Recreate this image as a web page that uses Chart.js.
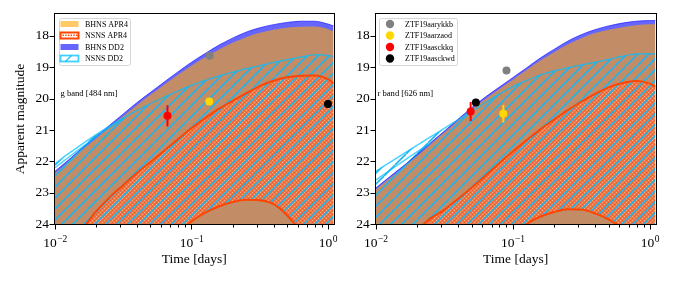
<!DOCTYPE html>
<html><head><meta charset="utf-8">
<script src="https://cdn.jsdelivr.net/npm/chart.js@4.4.0/dist/chart.umd.min.js"></script>
<style>
html,body{margin:0;padding:0;background:#fff;width:673px;height:285px;overflow:hidden}
canvas{position:absolute;top:0}
#left{left:0}
#right{left:340px}
</style></head><body>
<canvas id="left" width="340" height="285"></canvas>
<canvas id="right" width="333" height="285"></canvas>
<script>
// ---------- data ----------
const days = [0.01,0.0126,0.0158,0.02,0.0251,0.0316,0.0398,0.0501,0.0631,0.0794,0.1,0.126,0.158,0.2,0.251,0.316,0.398,0.501,0.631,0.794,1.0,1.1];

// g band [484 nm]
const gBhnsDD2   = [22.32,21.95,21.58,21.21,20.85,20.49,20.13,19.80,19.47,19.15,18.84,18.56,18.30,18.07,17.88,17.74,17.64,17.57,17.53,17.53,17.62,17.68];
const gBhnsAPR4  = [22.38,22.01,21.64,21.27,20.91,20.56,20.21,19.88,19.56,19.25,18.95,18.68,18.44,18.22,18.04,17.90,17.80,17.74,17.71,17.70,17.78,17.86];
const gNsnsDD2   = [22.08,21.75,21.45,21.15,20.88,20.62,20.38,20.16,19.95,19.76,19.58,19.42,19.28,19.16,19.05,18.95,18.85,18.76,18.68,18.60,18.62,18.66];
const gNsnsDD2b  = [22.20,21.87,21.55,21.23,20.92,20.64,null,null,null,null,null,null,null,null,null,null,null,null,null,null,null,null];
const gNsnsAPR4  = [24.90,24.50,24.15,23.60,23.15,22.76,22.37,22.02,21.66,21.30,20.94,20.62,20.33,20.07,19.83,19.60,19.43,19.32,19.27,19.26,19.38,19.52];
const gNsnsLower = [27.9,27.5,27.1,26.7,26.3,25.9,25.5,25.1,24.7,24.3,23.92,23.64,23.44,23.30,23.23,23.24,23.36,23.72,24.25,24.9,25.5,25.7];

// r band [626 nm]
const rBhnsDD2   = [22.85,22.50,22.16,21.79,21.41,21.04,20.66,20.29,19.95,19.64,19.33,19.02,18.71,18.43,18.17,17.96,17.80,17.68,17.59,17.53,17.51,17.51];
const rBhnsAPR4  = [22.90,22.55,22.21,21.84,21.46,21.09,20.71,20.35,20.01,19.70,19.40,19.09,18.79,18.52,18.27,18.07,17.91,17.80,17.72,17.66,17.63,17.63];
const rNsnsDD2   = [22.32,22.04,21.77,21.49,21.22,20.95,20.68,20.40,20.13,19.86,19.62,19.42,19.25,19.12,19.02,18.93,18.84,18.75,18.65,18.58,18.57,18.58];
const rNsnsDD2b  = [22.60,22.30,22.00,21.70,21.42,null,null,null,null,null,null,null,null,null,null,null,null,null,null,null,null,null];
const rNsnsAPR4  = [25.4,25.0,24.6,24.2,23.82,23.55,23.2,22.84,22.46,22.07,21.69,21.33,20.99,20.67,20.37,20.10,19.85,19.64,19.50,19.44,19.52,19.62];
const rNsnsLower = [28.2,27.8,27.4,27.0,26.6,26.2,25.85,25.5,25.1,24.75,24.35,24.0,23.77,23.62,23.53,23.54,23.66,23.85,24.15,24.6,25.1,25.3];

// ZTF candidates
const objects   = ['ZTF19aarykkb','ZTF19aarzaod','ZTF19aasckkq','ZTF19aasckwd'];
const objColors = ['#808080','#ffd700','#ff0000','#000000'];
const gTime = [0.136, 0.135, 0.0667, 1.0];
const gMag  = [18.63, 20.09, 20.55, 20.17];
const gErr  = [0, 0, 0.34, 0.13];
const rTime = [0.090, 0.0853, 0.0493, 0.0538];
const rMag  = [19.10, 20.48, 20.41, 20.12];
const rErr  = [0, 0.28, 0.30, 0];

const modelLabels = ['BHNS APR4','NSNS APR4','BHNS DD2','NSNS DD2'];
const yTicks = [18,19,20,21,22,23,24];
const xMajorTicks = [0.01, 0.1, 1];
const xMajorExp = ['\u22122','\u22121','0'];
const xMinorTicks = [0.02,0.03,0.04,0.05,0.06,0.07,0.08,0.09,0.2,0.3,0.4,0.5,0.6,0.7,0.8,0.9];
const xRange = [0.01, 1.1];
const yRange = [17.3, 24];

// ---------- styles ----------
const SERIF = "'Liberation Serif','Times New Roman',serif";
Chart.defaults.font.family = SERIF;
Chart.defaults.color = '#000';
const C_ORANGE = 'rgba(255,165,0,0.6)';
const C_BLUE = 'rgba(0,0,255,0.6)';
const C_RED = '#ff4500';
const C_CYAN = 'rgba(0,191,255,0.7)';

function hatchPattern(ctx) {
  const s = 11, c = document.createElement('canvas'); c.width = s; c.height = s;
  const x = c.getContext('2d');
  x.strokeStyle = '#22b4ec'; x.lineWidth = 1.6;
  x.beginPath();
  for (const k of [-1,0,1]) { x.moveTo(k*s, s); x.lineTo(k*s + s, 0); }
  x.stroke();
  return ctx.createPattern(c, 'repeat');
}
function dotPattern(ctx) {
  const c = document.createElement('canvas'); c.width = 4; c.height = 4;
  const x = c.getContext('2d');
  x.fillStyle = '#ee7646'; x.fillRect(0,0,4,4);
  x.fillStyle = '#f6ab84'; x.fillRect(0,0,1,1); x.fillRect(2,2,1,1);
  x.fillStyle = '#e4602f'; x.fillRect(2,0,1,1); x.fillRect(0,2,1,1);
  return ctx.createPattern(c, 'repeat');
}

const deco = {
  id: 'deco',
  afterDatasetsDraw(chart, args, o) {
    const {ctx, chartArea: a, scales: {x, y}} = chart;
    ctx.save();
    ctx.strokeStyle = '#000'; ctx.lineWidth = 1;
    const L = Math.round(a.left) - 0.5, R = Math.round(a.right) + 0.5;
    const T = Math.round(a.top) - 0.5, B = Math.round(a.bottom) + 0.5;
    ctx.strokeRect(L, T, R - L, B - T);
    ctx.beginPath();
    yTicks.forEach(v => { const p = Math.round(y.getPixelForValue(v)) + 0.5; ctx.moveTo(L - 5, p); ctx.lineTo(L, p); });
    xMajorTicks.forEach(v => { const p = Math.round(x.getPixelForValue(v)) + 0.5; ctx.moveTo(p, B); ctx.lineTo(p, B + 5); });
    xMinorTicks.forEach(v => { const p = Math.round(x.getPixelForValue(v)) + 0.5; ctx.moveTo(p, B); ctx.lineTo(p, B + 3); });
    ctx.stroke();
    // x tick labels 10^n
    ctx.fillStyle = '#000'; ctx.textBaseline = 'alphabetic';
    xMajorTicks.forEach((v, i) => {
      const p = x.getPixelForValue(v);
      ctx.font = '13.5px ' + SERIF; const w1 = ctx.measureText('10').width;
      ctx.font = '9.5px ' + SERIF; const w2 = ctx.measureText(xMajorExp[i]).width;
      const x0 = p - (w1 + w2) / 2;
      ctx.font = '13.5px ' + SERIF; ctx.textAlign = 'left';
      ctx.fillText('10', x0, 247);
      ctx.font = '9.5px ' + SERIF;
      ctx.fillText(xMajorExp[i], x0 + w1 + 0.5, 241.5);
    });
    ctx.restore();
  },
  afterDraw(chart, args, o) {
    const {ctx} = chart;
    ctx.save();
    ctx.fillStyle = '#000'; ctx.textBaseline = 'middle'; ctx.textAlign = 'left';
    ctx.font = '8.6px ' + SERIF;
    ctx.fillText(o.bandLabel, o.bandX, 94);
    // legend frame
    const fx = o.legendBox[0], fy = o.legendBox[1], fw = o.legendBox[2], fh = o.legendBox[3];
    ctx.beginPath(); ctx.roundRect(fx + 0.5, fy + 0.5, fw, fh, 2);
    ctx.fillStyle = 'rgba(255,255,255,0.8)'; ctx.fill();
    ctx.strokeStyle = '#d6d6d6'; ctx.lineWidth = 1; ctx.stroke();
    const rows = [24, 35.5, 47, 58.5];
    const labels = o.kind === 'models' ? modelLabels : objects;
    labels.forEach((lab, i) => {
      const cy = rows[i];
      const hx = fx + 1.5, hw = 18, hh = 6;
      if (o.kind === 'models') {
        if (i === 0) { ctx.fillStyle = C_ORANGE; ctx.fillRect(hx, cy - hh/2, hw, hh); }
        if (i === 2) { ctx.fillStyle = C_BLUE; ctx.fillRect(hx, cy - hh/2, hw, hh); }
        if (i === 1) {
          ctx.fillStyle = '#fff'; ctx.fillRect(hx, cy - hh/2, hw, hh);
          ctx.fillStyle = C_RED;
          for (let k = 0; k < 6; k++) ctx.fillRect(hx + 2 + k*2.7, cy - 1, 1.4, 1.6);
          ctx.strokeStyle = C_RED; ctx.lineWidth = 2; ctx.strokeRect(hx, cy - hh/2, hw, hh);
        }
        if (i === 3) {
          ctx.fillStyle = '#fff'; ctx.fillRect(hx, cy - hh/2, hw, hh);
          ctx.strokeStyle = '#33c4f5'; ctx.lineWidth = 1.5;
          ctx.beginPath(); ctx.moveTo(hx + 5, cy + hh/2); ctx.lineTo(hx + 11, cy - hh/2); ctx.stroke();
          ctx.strokeStyle = 'rgba(0,191,255,0.75)'; ctx.lineWidth = 1.8; ctx.strokeRect(hx, cy - hh/2, hw, hh);
        }
        ctx.fillStyle = '#000'; ctx.font = '8px ' + SERIF;
        ctx.fillText(lab, fx + 26, cy + 0.5);
      } else {
        ctx.fillStyle = objColors[i];
        ctx.beginPath(); ctx.arc(fx + 11, cy, 4.2, 0, Math.PI * 2); ctx.fill();
        ctx.fillStyle = '#000'; ctx.font = '8px ' + SERIF;
        ctx.fillText(lab, fx + 26, cy + 0.5);
      }
    });
    ctx.restore();
  }
};

function buildChart(id, band) {
  const canvas = document.getElementById(id);
  const ctx = canvas.getContext('2d');
  const pts = arr => days.map((d, i) => ({x: d, y: arr[i]}));
  const ds = [];
  objects.forEach((name, i) => ds.push({
    label: name, data: [{x: band.time[i], y: band.mag[i]}], showLine: false,
    pointRadius: 4, pointBackgroundColor: objColors[i], pointBorderWidth: 0, borderColor: objColors[i], clip: 6
  }));
  objects.forEach((name, i) => ds.push({
    label: name + ' error', data: [{x: band.time[i], y: band.mag[i] - band.err[i]}, {x: band.time[i], y: band.mag[i] + band.err[i]}],
    borderColor: objColors[i], borderWidth: 2, pointRadius: 0, fill: false, clip: 6
  }));
  const lowerIdx = ds.length;
  const line = (label, arr, extra) => Object.assign({label, data: pts(arr), pointRadius: 0, cubicInterpolationMode: 'monotone'}, extra);
  ds.push(line('NSNS lower edge', band.lower, {borderColor: C_RED, borderWidth: 2, fill: false}));
  ds.push(line('NSNS DD2', band.nsnsDD2, {borderColor: C_CYAN, borderWidth: 1.5, fill: lowerIdx, backgroundColor: hatchPattern(ctx)}));
  ds.push(line('NSNS DD2 edge', band.nsnsDD2b, {borderColor: C_CYAN, borderWidth: 1.5, fill: false, spanGaps: false}));
  ds.push(line('NSNS APR4', band.nsnsAPR4, {borderColor: C_RED, borderWidth: 2, fill: lowerIdx, backgroundColor: dotPattern(ctx)}));
  ds.push(line('BHNS APR4', band.bhnsAPR4, {borderWidth: 0, borderColor: 'rgba(0,0,0,0)', fill: 'start', backgroundColor: C_ORANGE}));
  ds.push(line('BHNS DD2', band.bhnsDD2, {borderWidth: 1, borderColor: C_BLUE, fill: 'start', backgroundColor: C_BLUE}));

  return new Chart(ctx, {
    type: 'line',
    data: {datasets: ds},
    plugins: [deco],
    options: {
      responsive: false, animation: false, devicePixelRatio: 1, events: [],
      layout: {padding: {left: 0, right: band.padRight, top: 14, bottom: 0}},
      plugins: {
        legend: {display: false}, tooltip: {enabled: false},
        filler: {drawTime: 'beforeDatasetsDraw', propagate: false},
        deco: {kind: band.kind, bandLabel: band.label, bandX: band.labelX, legendBox: band.legendBox}
      },
      scales: {
        x: {
          type: 'logarithmic', min: xRange[0], max: xRange[1],
          afterFit: s => { s.height = 61; },
          grid: {display: false, drawTicks: false}, border: {display: false},
          ticks: {display: false},
          title: {display: true, text: 'Time [days]', font: {size: 13.5}, color: '#000', padding: {top: 0, bottom: 17.4}}
        },
        y: {
          type: 'linear', reverse: true, min: yRange[0], max: yRange[1],
          afterBuildTicks: s => { s.ticks = yTicks.map(v => ({value: v})); },
          afterFit: s => { s.width = band.axisWidth; },
          grid: {display: false, drawTicks: true, tickLength: 5}, border: {display: false},
          ticks: {font: {size: 13.5}, color: '#000', padding: 1},
          title: {display: band.yTitle, text: 'Apparent magnitude', font: {size: 13.5}, color: '#000', padding: {top: 12, bottom: 0}}
        }
      }
    }
  });
}

buildChart('left', {
  kind: 'models', label: 'g band [484 nm]', labelX: 60.5, legendBox: [59, 18, 71, 47],
  axisWidth: 55, padRight: 6.4, yTitle: true,
  time: gTime, mag: gMag, err: gErr,
  bhnsDD2: gBhnsDD2, bhnsAPR4: gBhnsAPR4, nsnsDD2: gNsnsDD2, nsnsDD2b: gNsnsDD2b, nsnsAPR4: gNsnsAPR4, lower: gNsnsLower
});
buildChart('right', {
  kind: 'objects', label: 'r band [626 nm]', labelX: 37.5, legendBox: [39, 18, 78, 47],
  axisWidth: 35.7, padRight: 17.5, yTitle: false,
  time: rTime, mag: rMag, err: rErr,
  bhnsDD2: rBhnsDD2, bhnsAPR4: rBhnsAPR4, nsnsDD2: rNsnsDD2, nsnsDD2b: rNsnsDD2b, nsnsAPR4: rNsnsAPR4, lower: rNsnsLower
});
</script>
</body></html>
